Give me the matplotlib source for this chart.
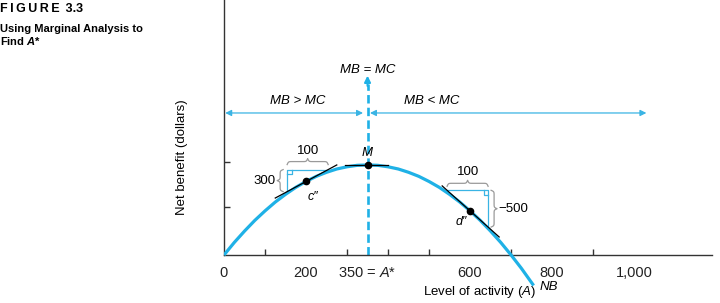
import matplotlib
matplotlib.use("Agg")
import matplotlib.pyplot as plt
from matplotlib.transforms import IdentityTransform
import numpy as np

# net benefit curve (A, dollars)
activity = [0, 25, 50, 75, 100, 125, 150, 175, 200, 225, 250, 275, 300, 325, 350,
            375, 400, 425, 450, 475, 500, 525, 550, 575, 600, 625, 650, 675, 700, 725, 755]
net_benefit = [0, 170, 325, 470, 600, 720, 825, 920, 1000, 1070, 1125, 1170, 1200, 1220, 1225,
               1220, 1200, 1170, 1125, 1070, 1000, 920, 825, 720, 600, 470, 325, 170, 0, -180, -415]

# points on the curve
pt_c = (200, 1000)
pt_m = (350, 1225)
pt_d = (600, 600)

# tangent segments (x0, y0, x1, y1)
tan_c = (125, 775, 275, 1225)
tan_m = (295, 1225, 400, 1225)
tan_d = (532, 940, 671, 245)

# slope triangles: run of 100
tri_c = (154, 862, 254, 1162)   # vertical at left, rise 300
tri_d = (544, 880, 644, 380)    # vertical at right, fall 500

xtick_labels = ["0", "200", "350 = $\\it{A}$*", "600", "800", "1,000"]
xtick_pos = [0, 200, 350, 600, 800, 1000]
xtick_marks = [100, 300, 400, 500, 700, 800, 900, 1000]
ytick_marks = [650, 1265]

blue = "#1fb1e6"
thin_blue = "#3ab4e4"
gray = "#9a9a9a"
axis_col = "#333333"

plt.rcParams["font.family"] = ["Liberation Sans", "DejaVu Sans"]
plt.rcParams["mathtext.fontset"] = "custom"
plt.rcParams["mathtext.it"] = "Liberation Sans:italic"
plt.rcParams["mathtext.rm"] = "Liberation Sans"
plt.rcParams["mathtext.bf"] = "Liberation Sans:bold"
plt.rcParams["mathtext.bfit"] = "Liberation Sans:italic:bold"

fig = plt.figure(figsize=(7.2, 3.03), dpi=100)
ax = fig.add_axes([224/720, 0, 488/720, 1.0])
ax.set_xlim(0, 1190)
ax.set_ylim(-653, 3469)
ax.patch.set_alpha(0)

for s in ["top", "right"]:
    ax.spines[s].set_visible(False)
ax.spines["bottom"].set_position(("data", 0))
ax.spines["left"].set_bounds(0, 3469)
for s in ["bottom", "left"]:
    ax.spines[s].set_color(axis_col)
    ax.spines[s].set_linewidth(1.0)

ax.set_xticks(xtick_pos)
ax.set_xticklabels(xtick_labels, fontsize=10.5, color="#222222")
ax.set_xticks(xtick_marks, minor=True)
ax.tick_params(axis="x", which="major", length=0, pad=8)
ax.tick_params(axis="x", which="minor", direction="in", length=4.5, width=1.0, color=axis_col)
ax.set_yticks(ytick_marks)
ax.set_yticklabels([])
ax.tick_params(axis="y", which="major", direction="in", length=4.5, width=1.0, color=axis_col)

# curve
ax.plot(activity, net_benefit, color=blue, lw=2.3, solid_capstyle="butt", zorder=3)

# dashed vertical at optimum with arrowhead
ax.plot([350, 350], [0, 2330], color=blue, lw=1.9, ls=(0, (3.2, 1.6)), zorder=2)
ax.annotate("", xy=(350, 2440), xytext=(350, 2300),
            arrowprops=dict(arrowstyle="-|>", color=blue, lw=1.5, mutation_scale=9,
                            shrinkA=0, shrinkB=0))

# horizontal region arrows
ax.annotate("", xy=(3, 1932), xytext=(339, 1932),
            arrowprops=dict(arrowstyle="<|-|>", color=thin_blue, lw=0.9, mutation_scale=9,
                            shrinkA=0, shrinkB=0))
ax.annotate("", xy=(356, 1932), xytext=(1030, 1932),
            arrowprops=dict(arrowstyle="<|-|>", color=thin_blue, lw=0.9, mutation_scale=9,
                            shrinkA=0, shrinkB=0))

ax.text(350, 2520, "MB = MC", style="italic", fontsize=9.5, ha="center", va="center")
ax.text(180, 2095, "MB > MC", style="italic", fontsize=9.5, ha="center", va="center")
ax.text(507, 2095, "MB < MC", style="italic", fontsize=9.5, ha="center", va="center")

# tangents
for x0, y0, x1, y1 in [tan_c, tan_m, tan_d]:
    ax.plot([x0, x1], [y0, y1], color="black", lw=0.9, zorder=4)

# slope triangles
xa, ya, xb, yb = tri_c
ax.plot([xa, xa, xb], [ya, yb, yb], color=thin_blue, lw=0.9, zorder=2)
xa, ya, xb, yb = tri_d
ax.plot([xa, xb, xb], [ya, ya, yb], color=thin_blue, lw=0.9, zorder=2)

# dots
for p in [pt_c, pt_m, pt_d]:
    ax.plot(*p, "o", color="black", ms=4.5, zorder=5)

ax.text(350, 1390, "M", style="italic", fontsize=9.5, ha="center", va="center")
ax.text(218, 785, "c\u2033", style="italic", fontsize=9, ha="center", va="center")
ax.text(578, 445, "d\u2033", style="italic", fontsize=9, ha="center", va="center")
ax.text(770, -440, "NB", style="italic", fontsize=9.5, ha="left", va="center")

fig.canvas.draw()


def to_px(x, y):
    return ax.transData.transform((x, y))


def brace(p0, p1, depth, flip=False):
    # curly brace between two pixel points, bulging by depth pixels
    p0, p1 = np.asarray(p0, float), np.asarray(p1, float)
    d = p1 - p0
    L = np.hypot(*d)
    u = d / L
    n = np.array([-u[1], u[0]]) * (-1 if flip else 1)
    t = np.linspace(0, L / 2, 60)
    k = 1.6
    h = 1 / (1 + np.exp(-k * (t - 0))) + 1 / (1 + np.exp(-k * (t - L / 2)))
    h = (h - h[0]) / (h[-1] - h[0])
    ts = np.concatenate([t, L - t[::-1]])
    hs = np.concatenate([h, h[::-1]])
    pts = p0[None, :] + ts[:, None] * u[None, :] + (hs * depth)[:, None] * n[None, :]
    line = plt.Line2D(pts[:, 0], pts[:, 1], color=gray, lw=0.9, transform=IdentityTransform())
    fig.add_artist(line)


def right_angle(corner, dx, dy, size=4.5):
    c = to_px(*corner)
    xs = [c[0] + dx * size, c[0] + dx * size, c[0]]
    ys = [c[1], c[1] + dy * size, c[1] + dy * size]
    fig.add_artist(plt.Line2D(xs, ys, color=thin_blue, lw=0.9, transform=IdentityTransform()))


# c'' triangle braces
xa, ya, xb, yb = tri_c
top_l = to_px(xa, yb)
top_r = to_px(xb, yb)
brace(top_l + [0, 5], top_r + [0, 5], 6)
bot_l = to_px(xa, ya)
brace(bot_l + [-4, 0], top_l + [-4, 0], 6)
right_angle((xa, yb), 1, -1)
ax.annotate("100", xy=((xa + xb) / 2, yb), xytext=(0, 19), textcoords="offset pixels",
            ha="center", va="center", fontsize=9.5)
ax.annotate("300", xy=(xa, (ya + yb) / 2), xytext=(-12, 0), textcoords="offset pixels",
            ha="right", va="center", fontsize=9.5)

# d'' triangle braces
xa, ya, xb, yb = tri_d
top_l = to_px(xa, ya)
top_r = to_px(xb, ya)
brace(top_l + [0, 4], top_r + [0, 4], 6)
bot_r = to_px(xb, yb)
brace(top_r + [3, 0], bot_r + [3, 0], 6)
right_angle((xb, ya), -1, -1)
ax.annotate("100", xy=((xa + xb) / 2, ya), xytext=(0, 18), textcoords="offset pixels",
            ha="center", va="center", fontsize=9.5)
ax.annotate("\u2212500", xy=(xb, (ya + yb) / 2), xytext=(10, 0), textcoords="offset pixels",
            ha="left", va="center", fontsize=9.5)

# axis labels
fig.text(480/720, 1 - 292/303, "Level of activity ($\\it{A}$)", ha="center", va="center",
         fontsize=9.5)
fig.text(182/720, 1 - 157/303, "Net benefit (dollars)", rotation=90, ha="center", va="center",
         fontsize=9.5)

# figure caption
fig.text(0.0, 1 - 9/303, "F\u2009I\u2009G\u2009U\u2009R\u2009E\u2009 3.3", ha="left", va="center",
         fontsize=9, fontweight="bold")
fig.text(0.0, 1 - 29/303, "Using Marginal Analysis to", ha="left", va="center",
         fontsize=8, fontweight="bold")
fig.text(0.0, 1 - 41/303, "Find $\\mathbfit{A}$*", ha="left", va="center",
         fontsize=8, fontweight="bold")

fig.savefig("out.png", dpi=100)
